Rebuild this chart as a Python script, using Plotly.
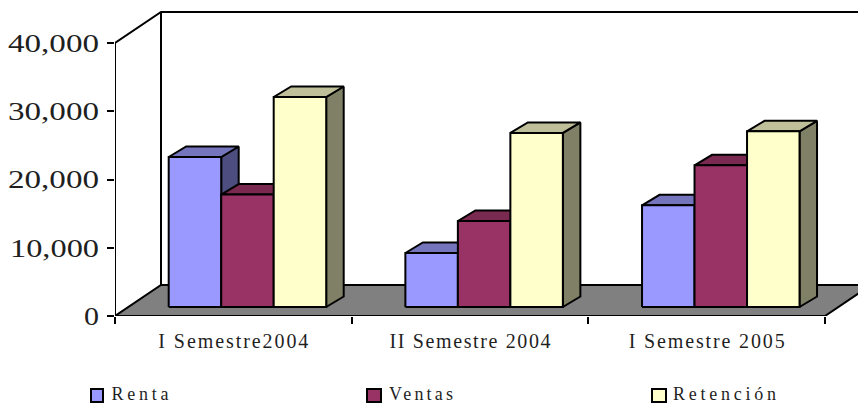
import json
import plotly.graph_objects as go

categories = ["I Semestre2004", "II Semestre 2004", "I Semestre 2005"]
renta = [21980, 7910, 14900]
ventas = [16470, 12600, 20760]
retencion = [30770, 25500, 25740]

series_names = ["Renta", "Ventas", "Retención"]
y_ticks = [0, 10000, 20000, 30000, 40000]

W, H = 858, 404
ML, MR, MT, MB = 115, 0, 5, 88
PX_PER_CAT = 710 / 3
PX_PER_UNIT = 273 / 40000
TEXT = "#1F1F1F"


def cx(px):
    return px / PX_PER_CAT


def cy(px):
    return px / PX_PER_UNIT


BAR_W = cx(52.5)
BAR_X0 = cx(53.7)
BAR_BASE = cy(9)
SIDE_X = cx(17.5)
SIDE_Y = cy(10.5)
WALL_X = cx(46)
WALL_Y = cy(31)

faces = [
    ("#9999FF", "#7575BD", "#4D4D80"),
    ("#993366", "#7A2950", "#4D1A33"),
    ("#FFFFCC", "#BFBF99", "#808066"),
]

fig = go.Figure()


def poly(xs, ys, fill=None, lw=2):
    fig.add_trace(go.Scatter(
        x=xs, y=ys, mode="lines",
        line=dict(color="#000000", width=lw),
        fill="toself" if fill else "none",
        fillcolor=fill,
        showlegend=False, hoverinfo="skip", cliponaxis=False,
    ))


# walls, axis line and floor
n = len(categories)
poly([0, 0, WALL_X, n + WALL_X], [0, y_ticks[-1], y_ticks[-1] + WALL_Y, y_ticks[-1] + WALL_Y])
poly([WALL_X, WALL_X], [WALL_Y, y_ticks[-1] + WALL_Y])
poly([0, n, n + WALL_X, WALL_X, 0], [0, 0, WALL_Y, WALL_Y, 0], fill="#808080")

# 3D columns built from the values
for i in range(n):
    for k, vals in enumerate([renta, ventas, retencion]):
        front, top, side = faces[k]
        x0 = i + BAR_X0 + k * BAR_W
        x1 = x0 + BAR_W
        y0 = BAR_BASE
        y1 = BAR_BASE + vals[i]
        poly([x1, x1 + SIDE_X, x1 + SIDE_X, x1, x1],
             [y0, y0 + SIDE_Y, y1 + SIDE_Y, y1, y0], fill=side)
        poly([x0, x0 + SIDE_X, x1 + SIDE_X, x1, x0],
             [y1, y1 + SIDE_Y, y1 + SIDE_Y, y1, y1], fill=top)
        poly([x0, x1, x1, x0, x0], [y0, y0, y1, y1, y0], fill=front)

plot_w = W - ML - MR
plot_h = H - MT - MB


def paper_x(px):
    return (px - ML) / plot_w


def paper_y(py):
    return (H - MB - py) / plot_h


# legend
legend_swatches = [(91, 103), (367, 381), (652, 666)]
legend_text_c = [139.5, 421, 724.5]
shapes = []
annotations = []
for k, name in enumerate(series_names):
    a, b = legend_swatches[k]
    shapes.append(dict(type="rect", xref="paper", yref="paper",
                       x0=paper_x(a), x1=paper_x(b), y0=paper_y(402), y1=paper_y(389),
                       fillcolor=faces[k][0], line=dict(color="#000000", width=2)))
    annotations.append(dict(xref="paper", yref="paper", x=paper_x(legend_text_c[k]), y=paper_y(393.5),
                            text=name, showarrow=False, xanchor="center", yanchor="middle",
                            font=dict(family="Liberation Serif", size=18, color=TEXT)))

fig.update_layout(
    width=W, height=H,
    margin=dict(l=ML, r=MR, t=MT, b=MB, pad=0),
    paper_bgcolor="#FFFFFF", plot_bgcolor="#FFFFFF",
    showlegend=False, hovermode=False,
    shapes=shapes, annotations=annotations,
    xaxis=dict(
        range=[0, plot_w / PX_PER_CAT],
        tickmode="array",
        tickvals=[i + 0.5 for i in range(n)], ticktext=categories,
        ticks="outside", ticklen=7, tickcolor="rgba(0,0,0,0)",
        showgrid=False, zeroline=False, showline=False,
        tickfont=dict(family="Liberation Serif", size=20, color=TEXT),
        minor=dict(tickvals=list(range(n + 1)), ticks="outside", ticklen=7,
                   tickwidth=2, tickcolor="#000000", showgrid=False),
    ),
    yaxis=dict(
        range=[0, plot_h / PX_PER_UNIT],
        tickmode="array", tickvals=y_ticks,
        ticktext=[f"{v:,}" for v in y_ticks],
        ticks="outside", ticklen=7, tickwidth=2, tickcolor="#000000",
        showgrid=False, zeroline=False, showline=False,
        ticklabelstandoff=3,
        tickfont=dict(family="Liberation Serif", size=25, color=TEXT),
    ),
)

# widths the labels occupy in the reference
widths = {
    "40,000": 91, "30,000": 91, "20,000": 91, "10,000": 89, "0": 15,
    "I Semestre2004": 150, "II Semestre 2004": 161, "I Semestre 2005": 156,
    "Renta": 57, "Ventas": 64, "Retención": 103,
}
post = """
document.body.style.margin = '0';
var w = %s;
function fit(sel, mode) {
  document.querySelectorAll(sel).forEach(function (t) {
    var n = w[t.textContent];
    if (n) { t.setAttribute('textLength', n); t.setAttribute('lengthAdjust', mode); }
  });
}
fit('.ytick text', 'spacingAndGlyphs');
fit('.xtick text, .annotation-text', 'spacing');
""" % json.dumps(widths)

fig.write_html("out.html", post_script=post, config={"displayModeBar": False})
